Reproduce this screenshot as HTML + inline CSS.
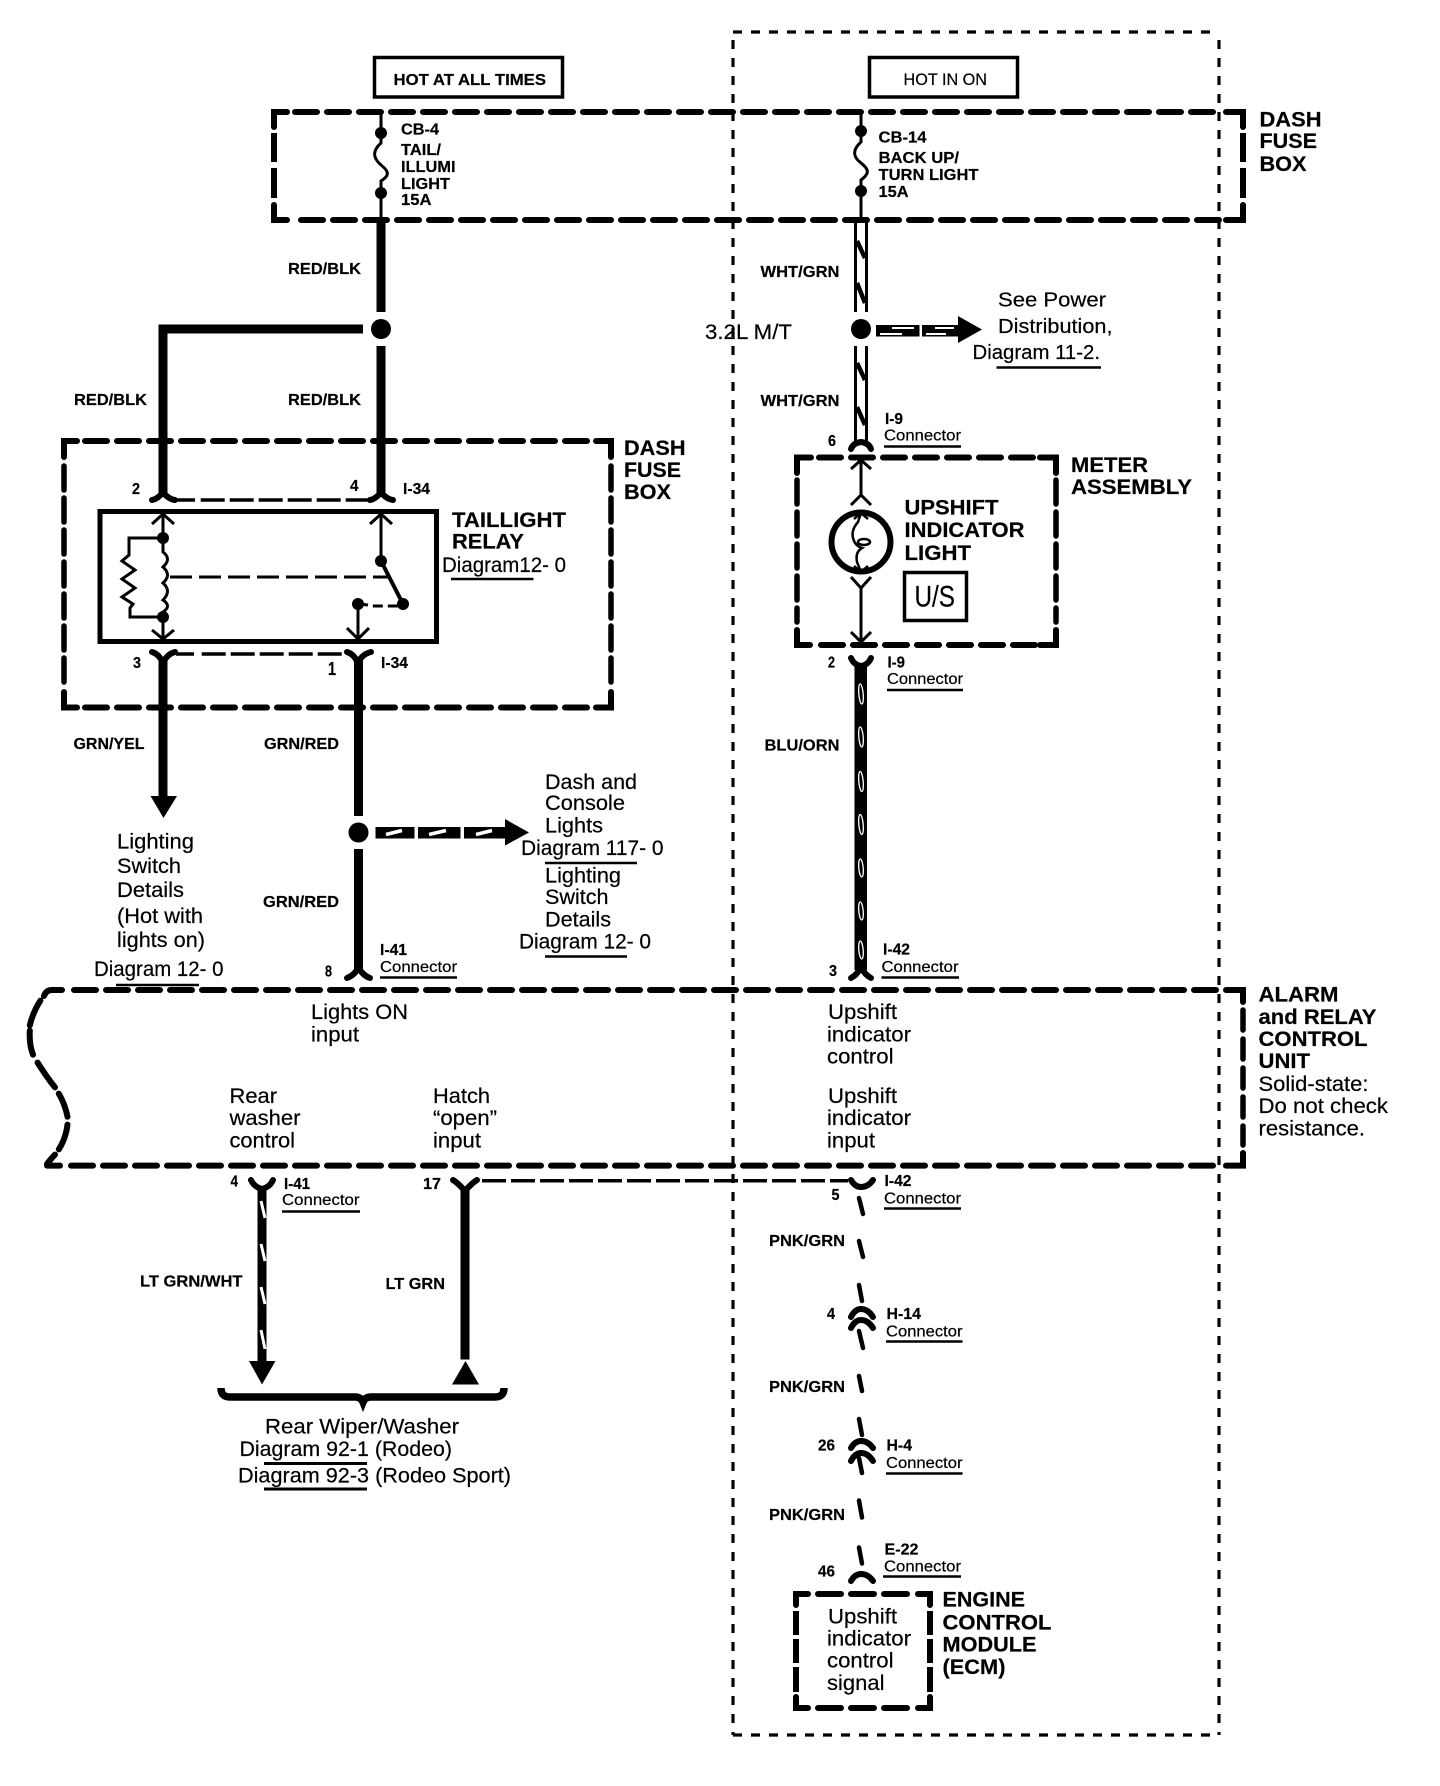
<!DOCTYPE html>
<html>
<head>
<meta charset="utf-8">
<style>
html,body{margin:0;padding:0;background:#fff}
svg{display:block}
text{font-family:"Liberation Sans",Arial,sans-serif;fill:#000;stroke:#000;stroke-width:.2}
.b{font-weight:bold}
.s{font-size:15.5px;font-weight:bold}
.c{font-size:15.5px}
.h{font-size:21.5px;font-weight:bold}
.r{font-size:21px}
.w{fill:none;stroke:#000;stroke-width:9}
.t{fill:none;stroke:#000;stroke-width:3}
.f{fill:none;stroke:#000;stroke-width:6;stroke-linecap:round;stroke-linejoin:round}
.u{fill:none;stroke:#000;stroke-width:2.5}
.d{fill:none;stroke:#000;stroke-width:6;stroke-linecap:round;stroke-dasharray:22 10}
.dv{fill:none;stroke:#000;stroke-width:5.5;stroke-linecap:round;stroke-dasharray:24 8}
.k{fill:none;stroke:#000;stroke-width:6;stroke-linecap:round;stroke-linejoin:miter}
.l{fill:none;stroke:#000;stroke-width:3.5;stroke-dasharray:24 5}
.thin{fill:none;stroke:#000;stroke-width:3.2;stroke-dasharray:9 9}
.sl{fill:none;stroke:#000;stroke-width:4.5;stroke-linecap:round}
</style>
</head>
<body>
<svg width="1440" height="1786" viewBox="0 0 1440 1786" xmlns="http://www.w3.org/2000/svg">
<rect width="1440" height="1786" fill="#fff"/>

<!-- thin dashed outer box -->
<path class="thin" d="M733 32H1219"/>
<path class="thin" d="M733 1735H1219"/>
<path class="thin" d="M733 40V1735"/>
<path class="thin" d="M1219 40V1735"/>

<!-- top boxes -->
<rect x="374.500" y="57.500" width="188" height="39.500" fill="#fff" stroke="#000" stroke-width="3.500"/>
<rect x="869.500" y="57.500" width="148" height="39.500" fill="#fff" stroke="#000" stroke-width="3.500"/>
<text x="393.500" y="85" class="b" font-size="16" textLength="152.500" lengthAdjust="spacingAndGlyphs">HOT AT ALL TIMES</text>
<text x="903.500" y="85" font-size="16.500" textLength="83.500" lengthAdjust="spacingAndGlyphs">HOT IN ON</text>

<!-- Dash fuse box top -->
<path class="k" d="M274 127V112H287M274 205V220H287M1226 112H1243V127M1243 205V220H1226"/>
<path class="d" d="M295 112H1220"/>
<path class="d" d="M301 220H1220"/>
<path class="k" style="stroke-linecap:butt" d="M274 133V162M274 168V198M1243 133V162M1243 168V198"/>
<text x="1259.500" y="126.500" class="h" textLength="62" lengthAdjust="spacingAndGlyphs">DASH</text>
<text x="1259.500" y="148" class="h" textLength="57.500" lengthAdjust="spacingAndGlyphs">FUSE</text>
<text x="1259.500" y="171" class="h" textLength="47" lengthAdjust="spacingAndGlyphs">BOX</text>

<!-- left fuse -->
<path class="t" d="M381 112V143C372 151 373 158 381 165C390 172 389 176 381 181V220"/>
<circle cx="381" cy="133" r="6"/><circle cx="381" cy="193" r="6"/>
<text x="401" y="134.500" class="s" textLength="38" lengthAdjust="spacingAndGlyphs">CB-4</text>
<text x="401" y="155" class="s" textLength="40" lengthAdjust="spacingAndGlyphs">TAIL/</text>
<text x="401" y="172" class="s" textLength="54.500" lengthAdjust="spacingAndGlyphs">ILLUMI</text>
<text x="401" y="189" class="s" textLength="49" lengthAdjust="spacingAndGlyphs">LIGHT</text>
<text x="401" y="205" class="s" textLength="30.500" lengthAdjust="spacingAndGlyphs">15A</text>

<!-- right fuse -->
<path class="t" d="M861 112V142C852 150 853 157 861 163C870 170 869 174 861 180V220"/>
<circle cx="861" cy="131" r="6"/><circle cx="861" cy="191" r="6"/>
<text x="878.500" y="142.500" class="s" textLength="48" lengthAdjust="spacingAndGlyphs">CB-14</text>
<text x="878.500" y="163" class="s" textLength="80.500" lengthAdjust="spacingAndGlyphs">BACK UP/</text>
<text x="878.500" y="180" class="s" textLength="100" lengthAdjust="spacingAndGlyphs">TURN LIGHT</text>
<text x="878.500" y="197" class="s" textLength="30" lengthAdjust="spacingAndGlyphs">15A</text>

<!-- left wires -->
<path class="w" d="M381 220V312"/>
<circle cx="381" cy="329" r="10"/>
<path class="w" d="M381 346V496"/>
<path class="w" d="M363 329H163V496"/>
<text x="288" y="274" class="s" textLength="73" lengthAdjust="spacingAndGlyphs">RED/BLK</text>
<text x="288" y="405" class="s" textLength="73" lengthAdjust="spacingAndGlyphs">RED/BLK</text>
<text x="74" y="405" class="s" textLength="73" lengthAdjust="spacingAndGlyphs">RED/BLK</text>

<!-- relay dash box -->
<path class="k" d="M64 457V441H77M64 692V707.500H77M596 441H611V457M611 692V707.500H596"/>
<path class="d" d="M85 441H590"/>
<path class="d" d="M85 707.500H590"/>
<path class="dv" d="M64 466V690"/>
<path class="dv" d="M611 466V690"/>
<text x="624" y="455" class="h" textLength="61.500" lengthAdjust="spacingAndGlyphs">DASH</text>
<text x="624" y="477" class="h" textLength="57" lengthAdjust="spacingAndGlyphs">FUSE</text>
<text x="624" y="499" class="h" textLength="47" lengthAdjust="spacingAndGlyphs">BOX</text>

<!-- relay connectors -->
<path class="f" d="M152 500Q158 499 163 492Q168 499 175 500"/>
<path class="f" d="M370 500Q376 499 381 492Q386 499 393 500"/>
<path class="l" d="M176 500H195M200.700 500H368"/>
<path class="f" d="M152 652Q159 654 163 663Q167 654 175 652"/>
<path class="f" d="M347 652Q354 654 358 663Q362 654 371 652"/>
<path class="l" d="M176 654H194M201.700 654H345"/>
<text x="132" y="494" class="s" textLength="8" lengthAdjust="spacingAndGlyphs">2</text>
<text x="350" y="491" class="s" textLength="8.500" lengthAdjust="spacingAndGlyphs">4</text>
<text x="403" y="494" class="s" textLength="27" lengthAdjust="spacingAndGlyphs">I-34</text>
<text x="133" y="668" class="s" textLength="8" lengthAdjust="spacingAndGlyphs">3</text>
<text x="328" y="675" class="s" style="font-size:18px" textLength="8" lengthAdjust="spacingAndGlyphs">1</text>
<text x="381" y="668" class="s" textLength="27" lengthAdjust="spacingAndGlyphs">I-34</text>

<!-- relay -->
<rect x="100" y="511.500" width="336.500" height="130" fill="none" stroke="#000" stroke-width="5"/>
<path class="t" d="M163 514V544M152 524L163 514L174 524"/>
<circle cx="163" cy="538" r="6"/>
<path class="t" d="M163 544V552Q172 559 163 567Q172 575 163 583Q172 591 163 600Q172 606 163 612V639M152 630L163 639L174 630"/>
<circle cx="163" cy="617" r="6"/>
<path class="t" d="M163 538H129V555L122 561L135 570L122 579L135 588L122 597L133 604L130 608V617H163"/>
<path fill="none" stroke="#000" stroke-width="3" stroke-dasharray="22 7" d="M170 577H388"/>
<path class="t" d="M381 515V561M370 524L381 514L392 524"/>
<circle cx="381" cy="561" r="6"/>
<path fill="none" stroke="#000" stroke-width="4" d="M381 561L403 604"/>
<circle cx="403" cy="604" r="6"/>
<circle cx="358" cy="604" r="6"/>
<path fill="none" stroke="#000" stroke-width="3" stroke-dasharray="10 5" d="M358 604Q365 604 371 606H403"/>
<path class="t" d="M358 604V639M347 628L358 639L369 628"/>
<text x="452" y="527" class="h" textLength="114" lengthAdjust="spacingAndGlyphs">TAILLIGHT</text>
<text x="452" y="548.500" class="h" textLength="72" lengthAdjust="spacingAndGlyphs">RELAY</text>
<text x="442" y="572" class="r" font-size="20" textLength="124" lengthAdjust="spacingAndGlyphs">Diagram12- 0</text>
<path class="u" d="M451 579H533.500"/>

<!-- GRN wires -->
<path class="w" d="M163 660V797"/>
<path d="M150.500 796H177L163.500 818Z"/>
<path class="w" d="M358.500 660V816"/>
<circle cx="358.500" cy="832.500" r="10"/>
<path class="w" d="M358.500 849V972"/>
<text x="73.500" y="749" class="s" textLength="71" lengthAdjust="spacingAndGlyphs">GRN/YEL</text>
<text x="264" y="749" class="s" textLength="75" lengthAdjust="spacingAndGlyphs">GRN/RED</text>
<text x="263" y="907" class="s" textLength="76" lengthAdjust="spacingAndGlyphs">GRN/RED</text>

<!-- Branch to dash lights -->
<rect x="375.500" y="827" width="39" height="11.500"/>
<rect x="418" y="827" width="42.500" height="11.500"/>
<rect x="464" y="827" width="42" height="11.500"/>
<path d="M505 819L529 832.500L505 845.500Z"/>
<path stroke="#fff" stroke-width="3.500" d="M386 834.500L402 830.500M429 834.500L446 830.500M476 834.500L492 830.500"/>
<text x="545" y="789" class="r" textLength="92" lengthAdjust="spacingAndGlyphs">Dash and</text>
<text x="545" y="810" class="r" textLength="80" lengthAdjust="spacingAndGlyphs">Console</text>
<text x="545" y="832.500" class="r" textLength="58" lengthAdjust="spacingAndGlyphs">Lights</text>
<text x="521" y="855" class="r" font-size="20" textLength="142.500" lengthAdjust="spacingAndGlyphs">Diagram 117- 0</text>
<path class="u" d="M545 863H637"/>
<text x="545" y="882.500" class="r" textLength="76" lengthAdjust="spacingAndGlyphs">Lighting</text>
<text x="545" y="904" class="r" textLength="63.500" lengthAdjust="spacingAndGlyphs">Switch</text>
<text x="545" y="926.500" class="r" textLength="66" lengthAdjust="spacingAndGlyphs">Details</text>
<text x="519" y="948.500" class="r" font-size="20" textLength="132" lengthAdjust="spacingAndGlyphs">Diagram 12- 0</text>
<path class="u" d="M545 956.500H627"/>

<text x="117" y="848.500" class="r" textLength="77" lengthAdjust="spacingAndGlyphs">Lighting</text>
<text x="117" y="873" class="r" textLength="64" lengthAdjust="spacingAndGlyphs">Switch</text>
<text x="117" y="897" class="r" textLength="67" lengthAdjust="spacingAndGlyphs">Details</text>
<text x="117" y="923" class="r" textLength="86" lengthAdjust="spacingAndGlyphs">(Hot with</text>
<text x="117" y="947" class="r" textLength="88" lengthAdjust="spacingAndGlyphs">lights on)</text>
<text x="94" y="976" class="r" font-size="20" textLength="129.500" lengthAdjust="spacingAndGlyphs">Diagram 12- 0</text>
<path class="u" d="M116 985H199"/>

<!-- I-41 top -->
<path class="f" d="M347 978Q355 975 358.500 967Q362 975 370 978"/>
<text x="325" y="976.500" class="s" textLength="7" lengthAdjust="spacingAndGlyphs">8</text>
<text x="380" y="955" class="s" textLength="27" lengthAdjust="spacingAndGlyphs">I-41</text>
<text x="380" y="972" class="c" textLength="77" lengthAdjust="spacingAndGlyphs">Connector</text>
<path class="u" d="M380 977.500H457"/>

<!-- Right wires top -->
<path class="t" d="M855.500 220V312M866.500 220V312M855.500 346V441M866.500 346V441"/>
<path fill="none" stroke="#000" stroke-width="4.500" d="M857 241L865 258M857 283L865 303M857 363L865 380M857 407L865 425"/>
<circle cx="861" cy="329" r="10"/>
<text x="760.500" y="277" class="s" textLength="79" lengthAdjust="spacingAndGlyphs">WHT/GRN</text>
<text x="760.500" y="406" class="s" textLength="79" lengthAdjust="spacingAndGlyphs">WHT/GRN</text>
<text x="705" y="339" class="r" textLength="87" lengthAdjust="spacingAndGlyphs">3.2L M/T</text>
<rect x="876" y="325" width="43.500" height="11.500"/>
<rect x="922" y="325" width="37" height="11.500"/>
<path d="M958 316L982 329.500L958 343Z"/>
<path stroke="#fff" stroke-width="2" d="M892 328H914M880 334H902M935 328H954M926 334H946"/>
<text x="998" y="306.500" font-size="20" textLength="108" lengthAdjust="spacingAndGlyphs">See Power</text>
<text x="998" y="333" font-size="20" textLength="114.500" lengthAdjust="spacingAndGlyphs">Distribution,</text>
<text x="972.500" y="359" font-size="20" textLength="127.500" lengthAdjust="spacingAndGlyphs">Diagram 11-2.</text>
<path class="u" d="M996.500 367.500H1101"/>

<text x="828" y="446" class="s" textLength="8" lengthAdjust="spacingAndGlyphs">6</text>
<text x="885" y="424" class="s" textLength="18" lengthAdjust="spacingAndGlyphs">I-9</text>
<text x="884" y="440.500" class="c" textLength="77" lengthAdjust="spacingAndGlyphs">Connector</text>
<path class="u" d="M884 446.500H961"/>
<path class="f" d="M851 449Q853 443 861 442Q869 443 871 449"/>

<!-- Meter assembly -->
<path class="k" d="M797 473V457.500H811M1040 457.500H1056V473M797 630V645H810M1040 645H1056V630"/>
<path class="d" d="M819 457.500H1035"/>
<path class="d" d="M821 645H1035"/>
<path class="dv" d="M797 480V622"/>
<path class="dv" d="M1056 480V622"/>
<path class="t" d="M861 460V495M851 469L861 460L871 469M851 505L861 495L871 505"/>
<circle cx="861" cy="542" r="29.500" fill="#fff" stroke="#000" stroke-width="6"/>
<path fill="none" stroke="#000" stroke-width="2.500" d="M861 513L858 522Q851 530 853 538Q855 546 862 548Q855 552 857 562L861 572M854 519L861 513L868 519M854 566L861 572L868 566"/>
<ellipse cx="864" cy="542" rx="6" ry="3" fill="none" stroke="#000" stroke-width="2.500"/>
<path class="t" d="M861 588V642M851 577L861 588L871 577M851 632L861 642L871 632"/>
<text x="904.500" y="514.500" class="h" textLength="94" lengthAdjust="spacingAndGlyphs">UPSHIFT</text>
<text x="904.500" y="537" class="h" textLength="120" lengthAdjust="spacingAndGlyphs">INDICATOR</text>
<text x="904.500" y="560" class="h" textLength="66.500" lengthAdjust="spacingAndGlyphs">LIGHT</text>
<rect x="904.500" y="572.500" width="62" height="48" fill="none" stroke="#000" stroke-width="3.500"/>
<text x="914.500" y="606.500" font-size="30" textLength="40.500" lengthAdjust="spacingAndGlyphs">U/S</text>
<text x="1071" y="472" class="h" textLength="77" lengthAdjust="spacingAndGlyphs">METER</text>
<text x="1071" y="494" class="h" textLength="121" lengthAdjust="spacingAndGlyphs">ASSEMBLY</text>

<!-- BLU/ORN wire -->
<path class="f" d="M851 658Q854 665 861 666Q868 665 871 658"/>
<rect x="854.500" y="664" width="12.500" height="306"/>
<g fill="none" stroke="#fff" stroke-width="1.300">
<ellipse cx="861" cy="694" rx="2.200" ry="10" transform="rotate(-5 861 694)"/>
<ellipse cx="861" cy="737" rx="2.200" ry="10" transform="rotate(-5 861 737)"/>
<ellipse cx="861" cy="781.500" rx="2.200" ry="10" transform="rotate(-5 861 781.500)"/>
<ellipse cx="861" cy="824.500" rx="2.200" ry="10" transform="rotate(-5 861 824.500)"/>
<ellipse cx="861" cy="868" rx="2.200" ry="9" transform="rotate(-5 861 868)"/>
<ellipse cx="861" cy="911" rx="2.200" ry="9" transform="rotate(-5 861 911)"/>
<ellipse cx="861" cy="950" rx="2.200" ry="9" transform="rotate(-5 861 950)"/>
</g>
<text x="828" y="667.500" class="s" textLength="7" lengthAdjust="spacingAndGlyphs">2</text>
<text x="887.500" y="667.500" class="s" textLength="17.500" lengthAdjust="spacingAndGlyphs">I-9</text>
<text x="887" y="684" class="c" textLength="76" lengthAdjust="spacingAndGlyphs">Connector</text>
<path class="u" d="M887 690H963"/>
<text x="764.500" y="750.500" class="s" textLength="75" lengthAdjust="spacingAndGlyphs">BLU/ORN</text>
<path class="f" d="M851 978Q857 975 861 967Q865 975 871 978"/>
<text x="829" y="976" class="s" textLength="8" lengthAdjust="spacingAndGlyphs">3</text>
<text x="883" y="954.500" class="s" textLength="27" lengthAdjust="spacingAndGlyphs">I-42</text>
<text x="881.500" y="972" class="c" textLength="77" lengthAdjust="spacingAndGlyphs">Connector</text>
<path class="u" d="M881.500 977.500H959"/>

<!-- Alarm box -->
<path class="d" d="M74 990H1220"/>
<path class="d" d="M71 1165.600H1220"/>
<path class="k" d="M1226 990H1243V1002M1243 1153V1165.600H1226"/>
<path class="k" d="M62 990H52Q46 990 44 996M40.400 1000.600Q33 1012 29.800 1025.400M29.800 1030.600Q29 1044 33 1054.700M37.600 1062.600Q46 1076 55 1087.400M58.800 1093.600Q65 1104 67.500 1116.700M67.500 1124.600Q66 1138 58.800 1149.400M55 1154.600Q50 1160 47 1164M47 1165.600H60"/>
<path class="dv" d="M1243 1010V1145" style="stroke-dasharray:20 9"/>
<text x="311" y="1019" class="r" textLength="97" lengthAdjust="spacingAndGlyphs">Lights ON</text>
<text x="311" y="1041.500" class="r" textLength="48" lengthAdjust="spacingAndGlyphs">input</text>
<text x="229.500" y="1103" class="r" textLength="47.500" lengthAdjust="spacingAndGlyphs">Rear</text>
<text x="229.500" y="1125" class="r" textLength="71" lengthAdjust="spacingAndGlyphs">washer</text>
<text x="229.500" y="1147.500" class="r" textLength="65.500" lengthAdjust="spacingAndGlyphs">control</text>
<text x="433" y="1103" class="r" textLength="57" lengthAdjust="spacingAndGlyphs">Hatch</text>
<text x="433" y="1125" class="r" textLength="64" lengthAdjust="spacingAndGlyphs">“open”</text>
<text x="433" y="1147.500" class="r" textLength="48" lengthAdjust="spacingAndGlyphs">input</text>
<text x="828" y="1019" class="r" textLength="69" lengthAdjust="spacingAndGlyphs">Upshift</text>
<text x="827" y="1041.500" class="r" textLength="84" lengthAdjust="spacingAndGlyphs">indicator</text>
<text x="827" y="1063.500" class="r" textLength="66.500" lengthAdjust="spacingAndGlyphs">control</text>
<text x="828" y="1103" class="r" textLength="69" lengthAdjust="spacingAndGlyphs">Upshift</text>
<text x="827" y="1125" class="r" textLength="84" lengthAdjust="spacingAndGlyphs">indicator</text>
<text x="827" y="1147.500" class="r" textLength="48" lengthAdjust="spacingAndGlyphs">input</text>
<text x="1258.500" y="1001.500" class="h" textLength="80" lengthAdjust="spacingAndGlyphs">ALARM</text>
<text x="1258.500" y="1024" class="h" textLength="118" lengthAdjust="spacingAndGlyphs">and RELAY</text>
<text x="1258.500" y="1046" class="h" textLength="109" lengthAdjust="spacingAndGlyphs">CONTROL</text>
<text x="1258.500" y="1068" class="h" textLength="51.500" lengthAdjust="spacingAndGlyphs">UNIT</text>
<text x="1258.500" y="1091" class="r" textLength="110" lengthAdjust="spacingAndGlyphs">Solid-state:</text>
<text x="1258.500" y="1113" class="r" textLength="129.500" lengthAdjust="spacingAndGlyphs">Do not check</text>
<text x="1258.500" y="1135.500" class="r" textLength="106.500" lengthAdjust="spacingAndGlyphs">resistance.</text>

<!-- Rear wires -->
<path class="f" d="M251 1180Q254 1187 262 1189Q270 1187 273 1180"/>
<path class="w" d="M262 1187V1363"/>
<path stroke="#fff" stroke-width="3" d="M261 1201L265 1218M261 1244L265 1261M261 1287L265 1304M261 1330L265 1349"/>
<path d="M249 1361H275.500L262 1384.500Z"/>
<path class="f" d="M453 1180Q458 1183 465 1191Q472 1183 477 1180"/>
<path class="w" d="M465 1188V1359.500"/>
<path d="M465.500 1361L479 1384.500H452Z"/>
<path class="l" d="M482 1180.700H848"/>
<text x="230.500" y="1186.500" class="s" textLength="7.500" lengthAdjust="spacingAndGlyphs">4</text>
<text x="284" y="1189" class="s" textLength="26" lengthAdjust="spacingAndGlyphs">I-41</text>
<text x="282" y="1205" class="c" textLength="77.500" lengthAdjust="spacingAndGlyphs">Connector</text>
<path class="u" d="M282 1211.500H360"/>
<text x="423" y="1189" class="s" textLength="18" lengthAdjust="spacingAndGlyphs">17</text>
<text x="140" y="1286.500" class="s" textLength="102.500" lengthAdjust="spacingAndGlyphs">LT GRN/WHT</text>
<text x="385.500" y="1289" class="s" textLength="59.500" lengthAdjust="spacingAndGlyphs">LT GRN</text>
<path fill="none" stroke="#000" stroke-width="7.500" d="M221 1388Q221 1397 230 1397H355Q361 1397 363 1402Q365 1397 371 1397H495Q504 1397 504 1388"/>
<path fill="none" stroke="#000" stroke-width="3.500" d="M363 1397V1405"/>
<text x="265" y="1433.500" class="r" textLength="194" lengthAdjust="spacingAndGlyphs">Rear Wiper/Washer</text>
<text x="239.500" y="1456" class="r" textLength="212.500" lengthAdjust="spacingAndGlyphs">Diagram 92-1 (Rodeo)</text>
<path fill="none" stroke="#000" stroke-width="3" d="M264 1463.500H367"/>
<text x="238" y="1482.500" class="r" textLength="273" lengthAdjust="spacingAndGlyphs">Diagram 92-3 (Rodeo Sport)</text>
<path fill="none" stroke="#000" stroke-width="3" d="M264 1489H367"/>

<!-- PNK/GRN run -->
<path class="f" d="M851 1180Q855 1187 861 1187Q868 1187 873 1180"/>
<path class="sl" d="M859 1198L863 1214M859 1241L863 1257M859 1285L862 1301M859 1331L863 1348M859 1376L862 1391M859 1419L862 1435M859 1458L862 1473M859 1500.500L862 1517.500M859 1547.500L862 1563.500"/>
<text x="831.500" y="1200" class="s" textLength="8" lengthAdjust="spacingAndGlyphs">5</text>
<text x="884.500" y="1186" class="s" textLength="27" lengthAdjust="spacingAndGlyphs">I-42</text>
<text x="884" y="1203.500" class="c" textLength="77" lengthAdjust="spacingAndGlyphs">Connector</text>
<path class="u" d="M884 1208.500H961"/>
<text x="769" y="1246" class="s" textLength="76" lengthAdjust="spacingAndGlyphs">PNK/GRN</text>
<path class="f" d="M851 1317Q855 1309 861 1309Q868 1309 873 1317M851 1328Q855 1320 861 1320Q868 1320 873 1328"/>
<text x="827" y="1319" class="s" textLength="8" lengthAdjust="spacingAndGlyphs">4</text>
<text x="886.500" y="1319" class="s" textLength="34.500" lengthAdjust="spacingAndGlyphs">H-14</text>
<text x="886" y="1336.500" class="c" textLength="76.500" lengthAdjust="spacingAndGlyphs">Connector</text>
<path class="u" d="M886 1341.500H962.500"/>
<text x="769" y="1392" class="s" textLength="76" lengthAdjust="spacingAndGlyphs">PNK/GRN</text>
<path class="f" d="M851 1448Q855 1441 861 1441Q868 1441 873 1448M851 1461Q855 1453 861 1453Q868 1453 873 1461"/>
<text x="818" y="1450.500" class="s" textLength="17" lengthAdjust="spacingAndGlyphs">26</text>
<text x="886.500" y="1450.500" class="s" textLength="25.500" lengthAdjust="spacingAndGlyphs">H-4</text>
<text x="886" y="1468" class="c" textLength="76.500" lengthAdjust="spacingAndGlyphs">Connector</text>
<path class="u" d="M886 1473.500H962.500"/>
<text x="769" y="1520" class="s" textLength="76" lengthAdjust="spacingAndGlyphs">PNK/GRN</text>
<text x="818" y="1576.500" class="s" textLength="17" lengthAdjust="spacingAndGlyphs">46</text>
<text x="884.500" y="1554.500" class="s" textLength="34" lengthAdjust="spacingAndGlyphs">E-22</text>
<text x="884" y="1571.500" class="c" textLength="77" lengthAdjust="spacingAndGlyphs">Connector</text>
<path class="u" d="M883 1576.500H961"/>
<path class="f" d="M851 1581Q855 1574 861 1574Q868 1574 873 1581"/>

<!-- ECM -->
<path class="k" d="M796 1605V1594H808M918 1594H930V1605M796 1697V1708H808M918 1708H930V1697"/>
<path class="d" d="M818 1594H908" style="stroke-dasharray:23 10"/>
<path class="d" d="M818 1708H908" style="stroke-dasharray:23 10"/>
<path class="k" style="stroke-linecap:butt" d="M796 1611V1635M796 1639V1663M796 1667V1692M930 1611V1635M930 1639V1663M930 1667V1692"/>
<text x="828" y="1623.500" class="r" textLength="69" lengthAdjust="spacingAndGlyphs">Upshift</text>
<text x="827" y="1645.500" class="r" textLength="84" lengthAdjust="spacingAndGlyphs">indicator</text>
<text x="827" y="1667.500" class="r" textLength="66.500" lengthAdjust="spacingAndGlyphs">control</text>
<text x="827" y="1690" class="r" textLength="57.500" lengthAdjust="spacingAndGlyphs">signal</text>
<text x="942.500" y="1606.500" class="h" textLength="82.500" lengthAdjust="spacingAndGlyphs">ENGINE</text>
<text x="942.500" y="1629.500" class="h" textLength="109" lengthAdjust="spacingAndGlyphs">CONTROL</text>
<text x="942.500" y="1651.500" class="h" textLength="94" lengthAdjust="spacingAndGlyphs">MODULE</text>
<text x="942.500" y="1674" class="h" textLength="63" lengthAdjust="spacingAndGlyphs">(ECM)</text>
</svg>
</body>
</html>
